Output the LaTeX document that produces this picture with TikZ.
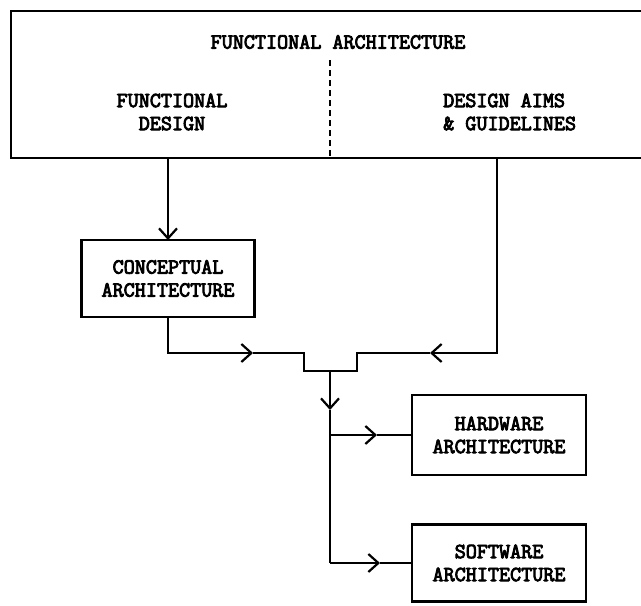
\documentclass[tikz,border=0pt]{standalone}
\usepackage{fontspec}
\usetikzlibrary{arrows.meta}

\newfontfamily\typefont[FakeBold=4]{Latin Modern Mono}
\newcommand\typewr{\fontsize{21.5}{23}\selectfont\typefont}

\begin{document}
\begin{tikzpicture}[
    x = 1pt,
    y = -1pt,
    >={Straight Barb[length=10pt, width=18pt, line width=2.2pt]},
    block/.style = {draw, line width=2.4pt, inner sep=0pt, outer sep=0pt},
    label/.style = {font=\typewr, align=center, inner sep=0pt},
    flow/.style = {line width=2.4pt},
    divider/.style = {line width=1.6pt, dash pattern=on 6pt off 4pt},
    ]

\useasboundingbox (0,0) rectangle (641,606);

% top box, open to the right
\node[block, anchor=north west, minimum width=700pt, minimum height=147pt] (fa) at (11,11){};
\node[label] (title) at (338,42){FUNCTIONAL ARCHITECTURE};
\node[label] (fd) at (172,112){FUNCTIONAL\\DESIGN};
\node[label, align=left, anchor=west] (dag) at (443,112){DESIGN AIMS\\\& GUIDELINES};
\draw[divider] (330,60) -- (330,158);

\node[block, minimum width=173pt, minimum height=77pt, label] (concept) at (168,278.5){CONCEPTUAL\\ARCHITECTURE};
\node[block, minimum width=174pt, minimum height=80pt, label] (hw) at (499,435){HARDWARE\\ARCHITECTURE};
\node[block, minimum width=174pt, minimum height=77pt, label] (sw) at (499,563){SOFTWARE\\ARCHITECTURE};

\coordinate (rtop) at (497,158);
\coordinate (la) at (253,353);
\coordinate (ra) at (430,353);
\coordinate (jl) at (304,353);
\coordinate (jr) at (357,353);
\coordinate (jm) at (330,371);
\coordinate (da) at (330,410);
\coordinate (hb) at (330,435);
\coordinate (hx) at (377,435);
\coordinate (sb) at (330,563);
\coordinate (sx) at (380,563);

\draw[flow, ->] (concept.north |- fa.south) -- (concept.north);
\draw[flow, ->] (concept.south) |- (la);
\draw[flow] (la) -- (jl) |- (jm) -| (jr) -- (ra);
\draw[flow, ->] (rtop) |- (ra);
\draw[flow, ->] (jm) -- (da);
\draw[flow] (da) -- (sb);
\draw[flow, ->] (hb) -- (hx);
\draw[flow] (hx) -- (hw.west);
\draw[flow, ->] (sb) -- (sx);
\draw[flow] (sx) -- (sw.west);

\end{tikzpicture}
\end{document}
